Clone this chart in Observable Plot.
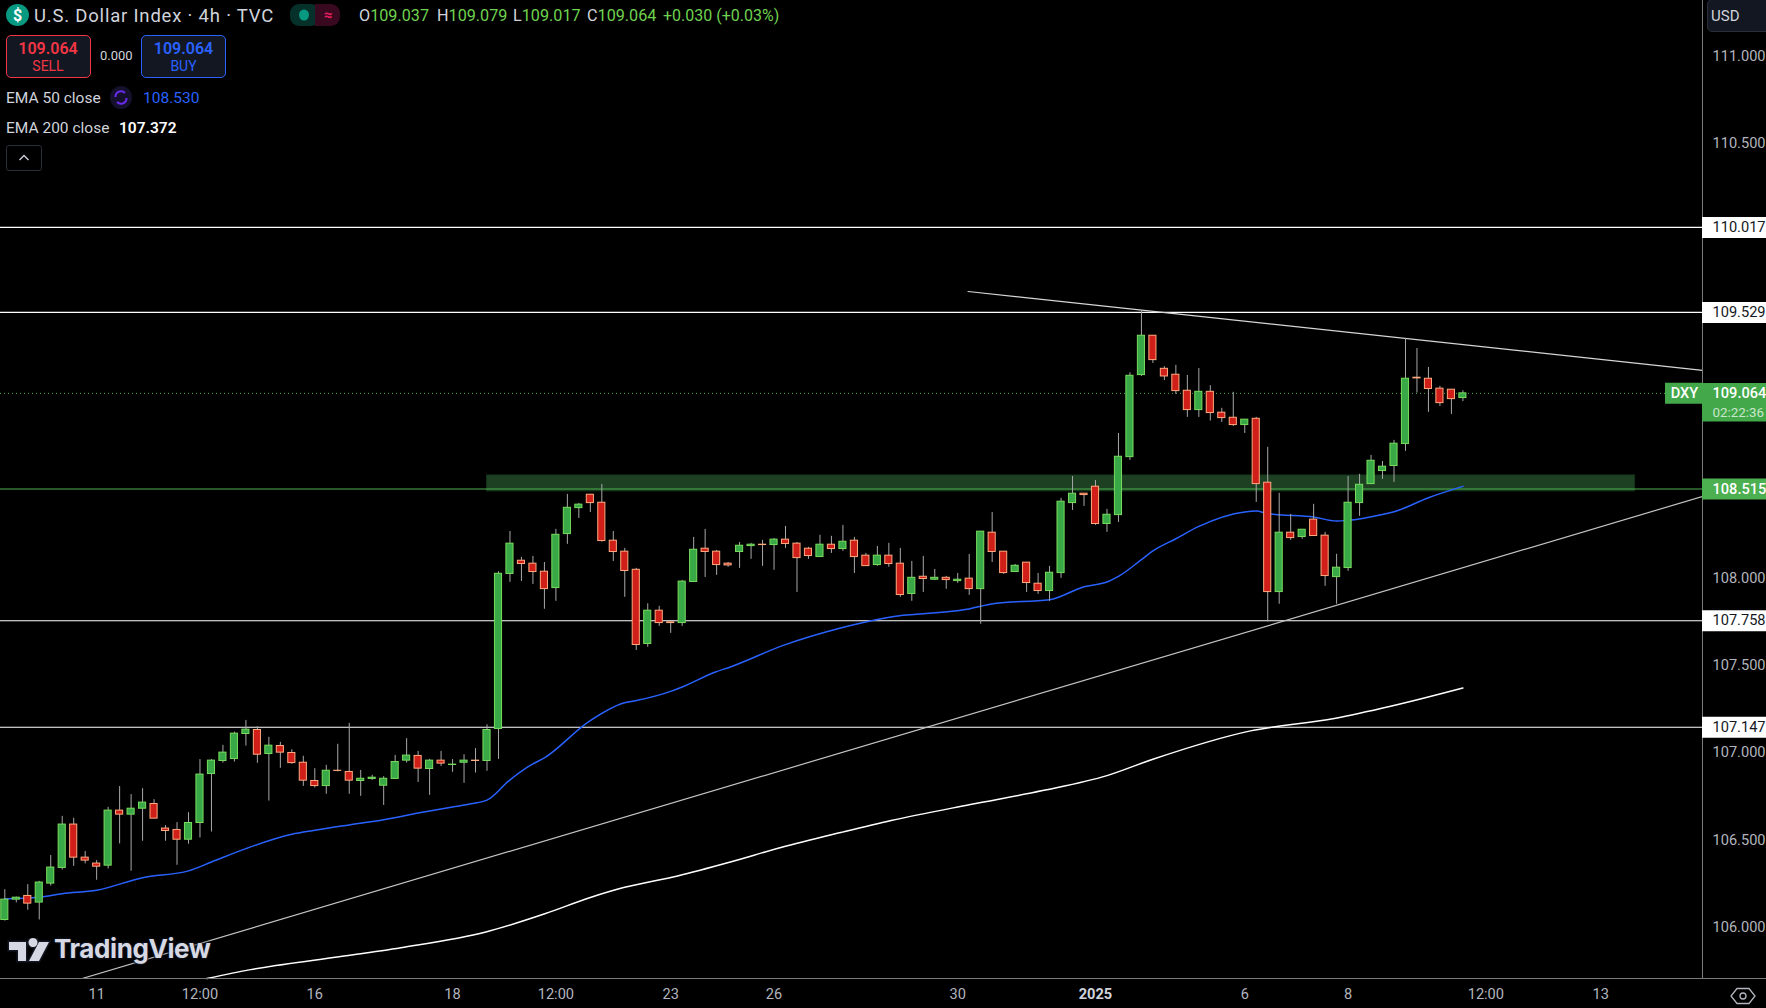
<!DOCTYPE html>
<html><head><meta charset="utf-8">
<script src="https://cdn.jsdelivr.net/npm/d3@7"></script>
<script src="https://cdn.jsdelivr.net/npm/@observablehq/plot@0.6"></script>
<style>
html,body{margin:0;padding:0;background:#000;overflow:hidden;width:1766px;height:1008px}
#chart{position:absolute;left:0;top:0}
.o{position:absolute;font-family:Roboto,sans-serif;white-space:nowrap;line-height:1;color:#d1d4dc}
.g{color:#6fd24f}
.box{position:absolute;box-sizing:border-box;border-radius:5px;background:#131722;border:1px solid}
.c{position:absolute;left:0;right:0;text-align:center;font-family:Roboto,sans-serif;line-height:1}
</style></head><body>
<div id="chart"></div>
<!-- header overlay -->
<svg class="o" style="left:6px;top:4px" width="23" height="22"><ellipse cx="11.5" cy="11" rx="11.5" ry="11" fill="#089981"/><text x="11.5" y="16.5" text-anchor="middle" font-family="Roboto" font-weight="700" font-size="16" fill="#fff">$</text></svg>
<div class="o" style="left:34px;top:7px;font-size:18.5px;letter-spacing:.8px">U.S. Dollar Index · 4h · TVC</div>
<svg class="o" style="left:290px;top:4px" width="50" height="22"><rect width="30" height="22" rx="9" fill="#06302a"/><rect x="25" width="25" height="22" rx="9" fill="#38091f"/><rect x="25" width="7" height="22" fill="#38091f"/><ellipse cx="14" cy="11" rx="5" ry="5.5" fill="#089981"/><text x="38" y="16" text-anchor="middle" font-size="15" font-weight="700" fill="#e91e63" font-family="Roboto">≈</text></svg>
<div class="o" style="left:359px;top:8px;font-size:16.2px">O<span class="g">109.037</span></div>
<div class="o" style="left:437px;top:8px;font-size:16.2px">H<span class="g">109.079</span></div>
<div class="o" style="left:513px;top:8px;font-size:16.2px">L<span class="g">109.017</span></div>
<div class="o" style="left:587px;top:8px;font-size:16.2px">C<span class="g">109.064</span></div>
<div class="o g" style="left:663px;top:8px;font-size:16px">+0.030 (+0.03%)</div>

<div class="box" style="left:5.5px;top:35px;width:85px;height:43px;border-color:#f23645">
  <div class="c" style="top:5px;font-size:16px;font-weight:600;color:#f23645">109.064</div>
  <div class="c" style="top:23px;font-size:14px;color:#f23645">SELL</div>
</div>
<div class="o" style="left:100px;top:49px;font-size:13px">0.000</div>
<div class="box" style="left:141px;top:35px;width:85px;height:43px;border-color:#2962ff">
  <div class="c" style="top:5px;font-size:16px;font-weight:600;color:#2962ff">109.064</div>
  <div class="c" style="top:23px;font-size:14px;color:#2962ff">BUY</div>
</div>
<div class="o" style="left:6px;top:91px;font-size:15.5px">EMA 50 close</div>
<svg class="o" style="left:110px;top:86px" width="22" height="23"><ellipse cx="11" cy="11.5" rx="11" ry="11.5" fill="#15102c"/><path d="M5.5 11a5.500 5.500 0 0 1 9.500-4M16.500 12a5.500 5.500 0 0 1-9.500 4" fill="none" stroke="#6a2cf0" stroke-width="2"/></svg>
<div class="o" style="left:143px;top:91px;font-size:15.5px;color:#2962ff">108.530</div>
<div class="o" style="left:6px;top:121px;font-size:15.5px">EMA 200 close</div>
<div class="o" style="left:119px;top:121px;font-size:15.5px;font-weight:600;color:#fff">107.372</div>
<div class="box" style="left:6px;top:145px;width:36px;height:26px;background:#000;border-color:#2a2e39;border-radius:3px"></div>
<svg class="o" style="left:18px;top:153px" width="12" height="10"><path d="M1.5 7L6 2.5L10.5 7" fill="none" stroke="#d1d4dc" stroke-width="1.3"/></svg>
<div class="box" style="left:1707px;top:-1px;width:70px;height:33px;background:#131722;border-color:#2a2e39"></div>
<div class="o" style="left:1711px;top:9px;font-size:15px">USD</div>
<!-- logo -->
<svg class="o" style="left:6px;top:938px" width="46" height="26"><path stroke="#131722" stroke-width="3" paint-order="stroke" fill="#d6d9e4" d="M3 4H20V23H12V12H3ZM27 9a4.500 4.500 0 1 1 .01 0ZM33 4H43L33 23H23Z"/></svg>
<div class="o" style="left:54px;top:936px;font-family:Inter,Roboto,sans-serif;font-weight:700;font-size:26px;letter-spacing:-.4px;color:#d6d9e4;text-shadow:0 0 3px #131722,0 0 3px #131722,0 0 3px #131722">TradingView</div>
<svg class="o" style="left:1730px;top:984px" width="26" height="24"><path d="M7 4.500H19L25 12L19 19.500H7L1 12Z" fill="none" stroke="#b2b5be" stroke-width="1.3"/><circle cx="13" cy="12" r="3" fill="none" stroke="#b2b5be" stroke-width="1.3"/></svg>

<script>
const open = [106.040,106.157,106.178,106.140,106.249,106.339,106.588,106.398,106.364,106.352,
106.668,106.645,106.679,106.706,106.565,106.557,106.501,106.597,106.878,106.953,
106.964,107.108,107.131,106.993,107.039,106.999,106.943,106.838,106.809,106.897,
106.890,106.838,106.850,106.811,106.850,106.955,106.982,106.907,106.955,106.930,
106.943,106.955,106.953,107.137,108.027,108.103,108.086,108.040,107.946,108.256,
108.405,108.482,108.436,108.218,108.155,108.051,107.625,107.816,107.749,107.745,
107.981,108.172,108.155,108.086,108.153,108.187,108.195,108.193,108.224,108.201,
108.172,108.124,108.195,108.170,108.218,108.132,108.078,108.132,108.086,107.912,
108.011,107.994,108.005,107.986,108.000,107.940,108.264,108.155,108.038,108.092,
107.971,107.929,108.032,108.434,108.488,108.528,108.314,108.365,108.698,109.169,
109.395,109.205,109.171,109.079,108.968,109.073,108.953,108.924,108.882,108.918,
108.551,107.923,108.264,108.239,108.339,108.247,108.009,108.061,108.434,108.543,
108.618,108.647,108.773,109.154,109.148,109.091,109.085,109.037];
const high = [106.214,106.172,106.243,106.262,106.410,106.635,106.624,106.433,106.381,106.687,
106.806,106.760,106.794,106.731,106.582,106.599,106.656,106.961,106.961,107.043,
107.119,107.186,107.150,107.089,107.060,107.018,106.980,106.909,106.928,107.049,
107.169,106.899,106.871,106.863,106.985,107.081,107.008,106.962,107.008,106.961,
106.989,107.024,107.161,108.040,108.271,108.122,108.128,108.093,108.283,108.484,
108.432,108.482,108.541,108.271,108.174,108.059,107.856,107.841,107.749,107.990,
108.237,108.283,108.162,108.093,108.208,108.203,108.220,108.231,108.300,108.208,
108.180,108.249,108.243,108.306,108.237,108.145,108.185,108.203,108.174,108.099,
108.128,108.053,108.013,108.030,108.139,108.270,108.380,108.155,108.082,108.092,
108.030,108.071,108.461,108.587,108.488,108.564,108.398,108.834,109.182,109.540,
109.395,109.217,109.225,109.167,109.207,109.108,108.978,109.070,108.913,108.926,
108.754,108.490,108.369,108.281,108.427,108.266,108.140,108.587,108.599,108.708,
108.673,108.794,109.378,109.322,109.213,109.104,109.085,109.079];
const low = [106.034,106.138,106.096,106.040,106.235,106.327,106.348,106.362,106.268,106.333,
106.477,106.320,106.492,106.622,106.492,106.354,106.475,106.511,106.545,106.941,
106.947,107.039,106.940,106.723,106.911,106.934,106.807,106.798,106.762,106.890,
106.762,106.750,106.842,106.698,106.850,106.941,106.830,106.756,106.922,106.888,
106.825,106.884,106.894,106.962,107.979,107.984,107.967,107.824,107.870,108.197,
108.346,108.380,108.210,108.099,107.893,107.588,107.606,107.726,107.686,107.726,
107.981,108.007,108.019,108.065,108.059,108.111,108.071,108.048,108.174,107.921,
108.111,108.124,108.145,108.157,108.030,108.072,108.071,108.065,107.893,107.870,
107.921,107.990,107.939,107.973,107.904,107.738,108.093,108.025,108.038,107.921,
107.910,107.870,108.002,108.392,108.415,108.306,108.266,108.323,108.679,109.161,
109.236,109.138,109.058,108.926,108.926,108.905,108.897,108.874,108.834,108.438,
107.751,107.853,108.220,108.226,108.245,107.956,107.853,108.042,108.358,108.543,
108.570,108.553,108.731,109.066,108.955,108.989,108.943,109.017];
const close = [106.157,106.168,106.134,106.255,106.341,106.588,106.398,106.381,106.346,106.668,
106.645,106.679,106.714,106.622,106.551,106.501,106.597,106.875,106.955,107.001,
107.110,107.133,106.989,107.041,107.001,106.941,106.840,106.809,106.897,106.896,
106.840,106.851,106.857,106.851,106.947,106.984,106.909,106.955,106.938,106.932,
106.955,106.953,107.131,108.028,108.201,108.084,108.038,107.940,108.252,108.407,
108.425,108.434,108.216,108.153,108.044,107.619,107.816,107.745,107.745,107.983,
108.166,108.153,108.078,108.076,108.189,108.195,108.193,108.224,108.199,108.118,
108.130,108.195,108.170,108.212,108.124,108.072,108.132,108.084,107.906,108.005,
107.998,108.005,107.992,107.994,107.940,108.270,108.153,108.032,108.074,107.975,
107.929,108.034,108.442,108.488,108.480,108.314,108.367,108.700,109.165,109.395,
109.255,109.161,109.077,108.968,109.073,108.951,108.922,108.882,108.913,108.543,
107.923,108.264,108.233,108.281,108.245,108.015,108.063,108.436,108.539,108.677,
108.643,108.775,109.148,109.150,109.089,109.008,109.031,109.064];

const ema50Bar = [0,3,5,8,12,16,18,21,25,27,30,33,36,39,40.6,42,43.9,45.8,47,50.9,53.9,55,58,59,61.9,63.2,67.8,72.8,76.8,83.8,86.2,91,94,96,97,99,100,102,104,108,109,110,111,114,116,117,120,121,124,127];
const ema50Val = [106.161,106.170,106.191,106.211,106.283,106.322,106.373,106.450,106.532,106.555,106.586,106.616,106.654,106.689,106.707,106.728,106.839,106.929,106.971,107.181,107.286,107.300,107.353,107.378,107.464,107.493,107.617,107.717,107.776,107.824,107.858,107.879,107.954,107.981,108.013,108.109,108.159,108.229,108.300,108.383,108.388,108.373,108.367,108.354,108.331,108.335,108.369,108.384,108.465,108.530];
const ema200Bar = [17.6,21.4,28.6,34.5,41.9,47.1,51,53.9,58.6,63.2,67.6,72.8,77.2,84.1,90.4,96,100,108.5,115.8,120.7,127];
const ema200Val = [105.704,105.755,105.824,105.881,105.971,106.077,106.169,106.226,106.293,106.373,106.456,106.542,106.611,106.703,106.783,106.869,106.963,107.126,107.197,107.267,107.372];

const whiteLevels = [110.017,109.529,107.758,107.147];
const greenLevel = 108.515;
const lastPrice = 109.064;
const zoneBars = [42,142];
const zonePrices = [108.501,108.593];
const fallBars = [83.9,147.87];
const fallVals = [109.649,109.196];
const riseBars = [6.74,147.87];
const riseVals = [105.704,108.472];
const priceTicks = [106,106.5,107,107.5,108,110.5,111];
const timeBars = [8,17,27,39,48,58,67,83,108,117,129,139];
const timeLabels = ["11","12:00","16","18","12:00","23","26","30","6","8","12:00","13"];
const yearBar = 95, yearLabel = "2025";
const countdown = "02:22:36";

const W = 1766, H = 1008, MR = 64, MB = 30;
const bars = open.map((o,i)=>({i,o,h:high[i],l:low[i],c:close[i]}));
const up = bars.filter(d=>d.c>=d.o), down = bars.filter(d=>d.c<d.o);
const pairs = (xs,ys)=>xs.map((x,i)=>({x,y:ys[i]}));
const halfBody = 0.31;
const axisGrey = "#7a7a7a", tickGrey = "#b2b5be", font = "Roboto, sans-serif";
const labelSize = 14.6;
const labelRule = (vals,o)=>Plot.ruleY(vals,{strokeWidth:21,insetLeft:W-MR,insetRight:-MR,...o});
const labelText = (vals,o)=>Plot.text(vals,{y:d=>d,frameAnchor:"right",textAnchor:"start",dx:10,fontSize:labelSize,...o});

const chart = Plot.plot({
  width:W,height:H,marginTop:0,marginLeft:0,marginRight:MR,marginBottom:MB,
  style:{background:"#000",fontFamily:font,overflow:"visible"},
  x:{type:"linear",domain:[-0.375,147.87]},
  y:{type:"linear",domain:[105.704,111.32]},
  marks:[
    Plot.rect([0],{x1:zoneBars[0],x2:zoneBars[1],y1:zonePrices[0],y2:zonePrices[1],fill:"#1c4021",stroke:"#13321a",strokeWidth:1}),
    Plot.ruleY(whiteLevels,{stroke:"#fff",strokeWidth:1.1}),
    Plot.ruleY([greenLevel],{stroke:"#4caf50",strokeWidth:1.1}),
    Plot.ruleY([lastPrice],{stroke:"#4caf50",strokeWidth:1,strokeDasharray:"1 3"}),
    Plot.line(pairs(riseBars,riseVals),{x:"x",y:"y",stroke:"#c4c4c4",strokeWidth:1.2,clip:true}),
    Plot.line(pairs(fallBars,fallVals),{x:"x",y:"y",stroke:"#d6d6d6",strokeWidth:1.2}),
    Plot.line(pairs(ema50Bar,ema50Val),{x:"x",y:"y",stroke:"#2962ff",strokeWidth:1.5,curve:"monotone-x"}),
    Plot.line(pairs(ema200Bar,ema200Val),{x:"x",y:"y",stroke:"#fff",strokeWidth:1.5,curve:"monotone-x"}),
    Plot.ruleX(bars,{x:"i",y1:"l",y2:"h",stroke:"#a8a8a8",strokeWidth:1}),
    Plot.rect(up,{x1:d=>d.i-halfBody,x2:d=>d.i+halfBody,y1:"o",y2:"c",fill:"#38a946",stroke:"#79dc5e",strokeWidth:1}),
    Plot.rect(down,{x1:d=>d.i-halfBody,x2:d=>d.i+halfBody,y1:"o",y2:"c",fill:"#d01e19",stroke:"#ffab80",strokeWidth:1}),
    // panel frame
    Plot.ruleX([147.87],{y1:105.704,y2:111.32,stroke:axisGrey,strokeWidth:1}),
    Plot.ruleX([147.87],{y1:105.704,y2:111.32,stroke:axisGrey,strokeWidth:1,insetBottom:-MB}),
    Plot.ruleY([105.704],{stroke:axisGrey,strokeWidth:1,insetRight:-MR}),
    // axes
    Plot.axisY({anchor:"right",ticks:priceTicks,tickSize:0,tickPadding:10,tickFormat:d=>d.toFixed(3),fontSize:labelSize,color:tickGrey,label:null}),
    Plot.axisX({ticks:timeBars,tickSize:0,tickPadding:10,tickFormat:d=>timeLabels[timeBars.indexOf(d)],fontSize:labelSize,color:tickGrey,label:null}),
    Plot.axisX({ticks:[yearBar],tickSize:0,tickPadding:10,tickFormat:()=>yearLabel,fontSize:labelSize,fontWeight:700,color:"#d1d4dc",label:null}),
    // price tags
    labelRule(whiteLevels,{stroke:"#fff"}),
    labelRule([greenLevel],{stroke:"#4caf50"}),
    Plot.ruleY([lastPrice],{stroke:"#43a84a",strokeWidth:38.5,dy:9,insetLeft:W-MR,insetRight:-MR}),
    Plot.ruleY([lastPrice],{stroke:"#43a84a",strokeWidth:21,insetLeft:W-MR-37,insetRight:0}),
    labelText(whiteLevels,{text:d=>d.toFixed(3),fill:"#131722"}),
    labelText([greenLevel],{text:d=>d.toFixed(3),fill:"#fff",fontWeight:500}),
    labelText([lastPrice],{text:d=>d.toFixed(3),fill:"#fff",fontWeight:500}),
    labelText([lastPrice],{text:()=>countdown,fill:"#c8e6c9",dy:19,fontSize:13.4}),
    Plot.text([lastPrice],{y:d=>d,text:()=>"DXY",frameAnchor:"right",textAnchor:"middle",dx:-18,fontSize:labelSize,fill:"#fff",fontWeight:500})
  ]
});
document.getElementById("chart").append(chart);
</script>
</body></html>
